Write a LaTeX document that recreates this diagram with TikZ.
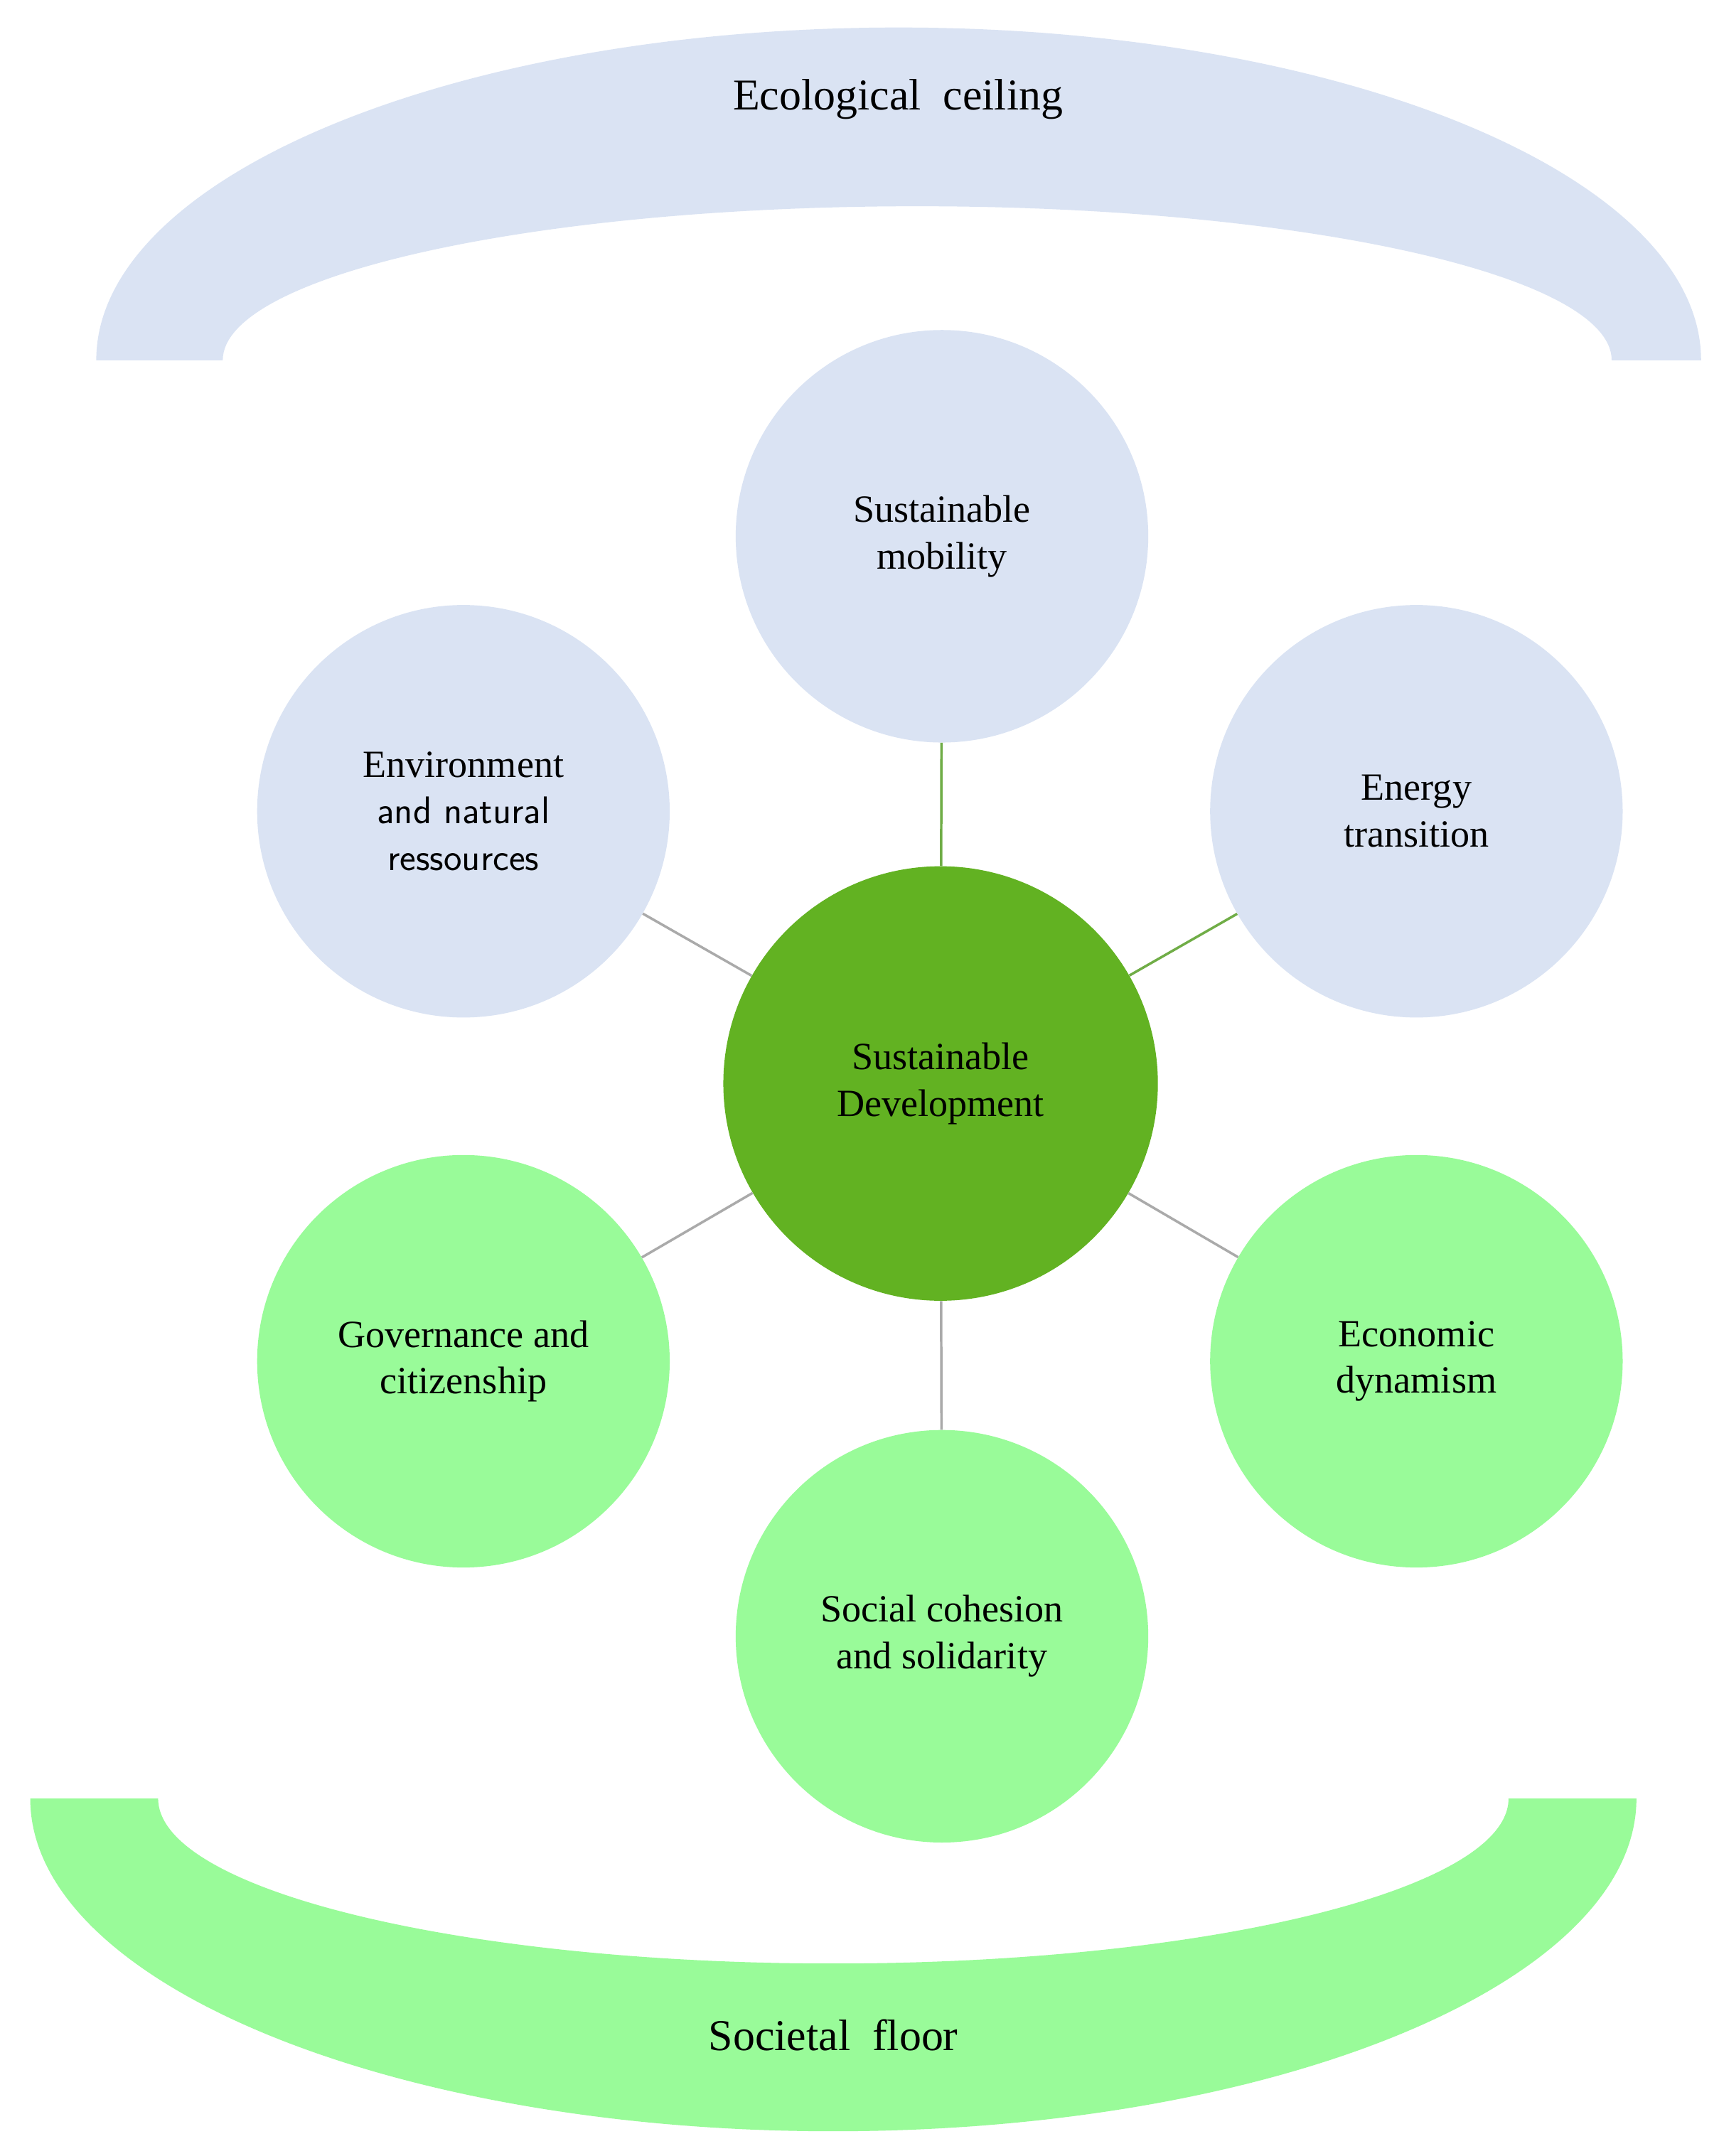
\documentclass[tikz,border=0pt]{standalone}
\usepackage{fontspec}
\setmainfont{Liberation Serif}
\usetikzlibrary{positioning}
\definecolor{ceilblue}{RGB}{218,227,243}
\definecolor{floorgreen}{RGB}{153,251,153}
\definecolor{coregreen}{RGB}{98,178,34}
\definecolor{linkgreen}{RGB}{112,173,71}
\definecolor{linkgray}{RGB}{170,170,170}
\begin{document}
\begin{tikzpicture}[x=1pt,y=1pt,yscale=-1,
  topic/.style={circle,fill=ceilblue,minimum size=300pt,inner sep=0pt,align=center,font=\fontsize{28}{34}\selectfont},
  base/.style={topic,fill=floorgreen},
  link/.style={line width=1.8pt,draw=linkgray}]
  \useasboundingbox (0,0) rectangle (1250,1568);
  % ceiling and floor
  \fill [ceilblue] (70,262) arc [start angle=180,end angle=360,x radius=583.5,y radius=242] -- (1172,262) arc [start angle=0,end angle=-180,x radius=505,y radius=112] -- cycle;
  \fill [floorgreen] (22,1308) arc [start angle=180,end angle=0,x radius=584,y radius=242] -- (1097,1308) arc [start angle=0,end angle=180,x radius=491,y radius=120] -- cycle;
  \node (ceil) at (653,72) {\fontsize{32}{38}\selectfont Ecological\ \ ceiling};
  \node (floor) at (606,1480) {\fontsize{32}{38}\selectfont Societal\ \ floor};
  % circles
  \node [topic,minimum size=316pt,fill=coregreen] (core) at (684,788) {Sustainable\\Development};
  \node [topic] (mobility) at (685,390) {Sustainable\\mobility};
  \node [topic] (environment) at (337,590) {Environment\\{\sffamily and natural}\\{\sffamily ressources}};
  \node [topic] (energy) at (1030,590) {Energy\\transition};
  \node [base] (governance) at (337,990) {Governance and\\citizenship};
  \node [base] (economic) at (1030,990) {Economic\\dynamism};
  \node [base] (social) at (685,1190) {Social cohesion\\and solidarity};
  % links
  \draw [link,draw=linkgreen] (core) -- (mobility);
  \draw [link,draw=linkgreen] (core) -- (energy);
  \draw [link] (core) -- (environment);
  \draw [link] (core) -- (governance);
  \draw [link] (core) -- (economic);
  \draw [link] (core) -- (social);
\end{tikzpicture}
\end{document}
